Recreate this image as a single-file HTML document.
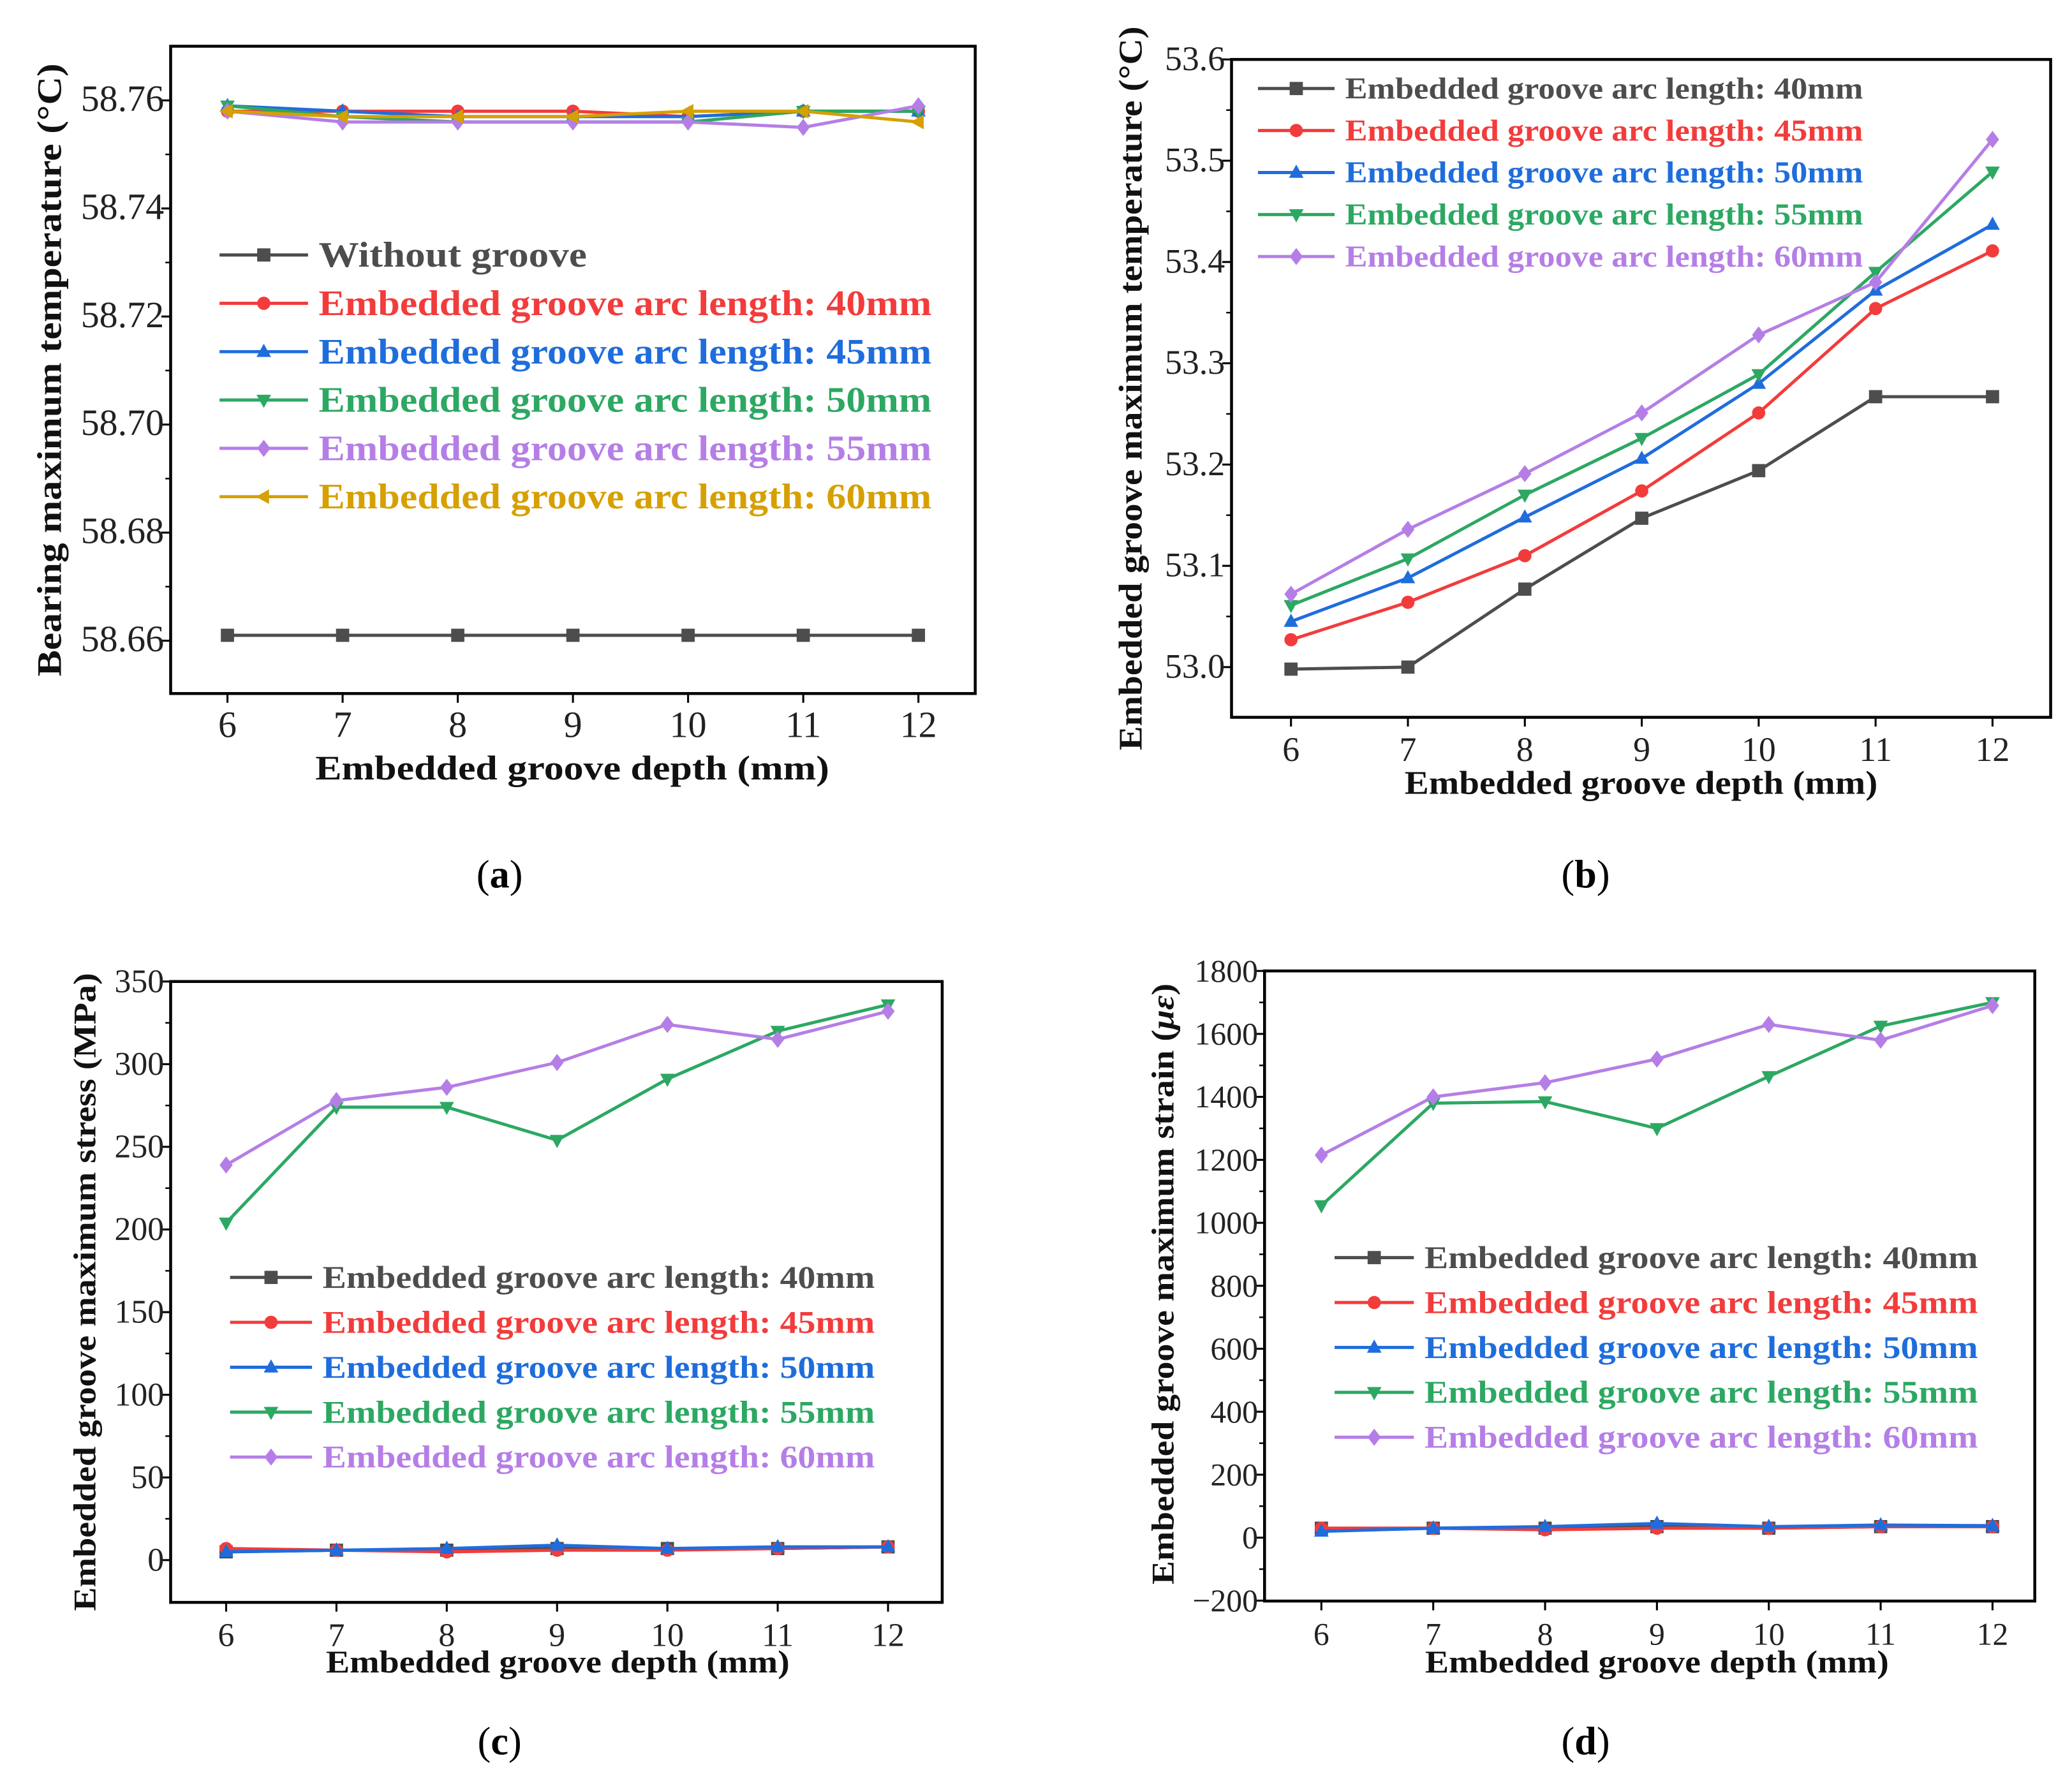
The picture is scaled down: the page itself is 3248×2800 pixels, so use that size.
<!DOCTYPE html>
<html><head><meta charset="utf-8"><style>
html,body{margin:0;padding:0;background:#fff}
svg{display:block}
text{font-family:"Liberation Serif",serif}
</style></head><body>
<svg id="root" xmlns="http://www.w3.org/2000/svg" width="3248" height="2800" viewBox="0 0 1568 1352"></svg>
<script>
const xCats=[6,7,8,9,10,11,12];
const aWithout=[58.661,58.661,58.661,58.661,58.661,58.661,58.661];
const a40=[58.758,58.758,58.758,58.758,58.757,58.758,58.758];
const a45=[58.759,58.758,58.757,58.757,58.757,58.758,58.758];
const a50=[58.759,58.757,58.756,58.756,58.756,58.758,58.758];
const a55=[58.758,58.756,58.756,58.756,58.756,58.755,58.759];
const a60=[58.758,58.757,58.757,58.757,58.758,58.758,58.756];
const aTicks=[58.66,58.68,58.70,58.72,58.74,58.76];
const b40=[52.998,53.0,53.077,53.147,53.194,53.267,53.267];
const b45=[53.027,53.064,53.11,53.174,53.251,53.354,53.411];
const b50=[53.045,53.088,53.148,53.206,53.28,53.372,53.437];
const b55=[53.061,53.107,53.17,53.226,53.289,53.39,53.489];
const b60=[53.072,53.136,53.191,53.251,53.328,53.38,53.521];
const bTicks=[53.0,53.1,53.2,53.3,53.4,53.5,53.6];
const c40=[5,6,6,7,7,7,8];
const c45=[7,6,5,6,6,7,8];
const c50=[5,6,7,9,7,8,8];
const c55=[204,274,274,254,291,320,336];
const c60=[239,278,286,301,324,315,332];
const cTicks=[0,50,100,150,200,250,300,350];
const d40=[30,30,30,35,30,35,35];
const d45=[30,30,25,30,30,35,35];
const d50=[20,30,35,45,35,40,38];
const d55=[1055,1380,1385,1300,1465,1625,1700];
const d60=[1215,1400,1445,1520,1630,1580,1690];
const dTicks=[-200,0,200,400,600,800,1000,1200,1400,1600,1800];

const NS="http://www.w3.org/2000/svg";
const root=document.getElementById('root');
function mk(tag,attrs,parent){const e=document.createElementNS(NS,tag);for(const k in attrs)e.setAttribute(k,attrs[k]);(parent||root).appendChild(e);return e;}
const COL={k:'#4d4d4d',r:'#f23c3c',b:'#1f6ddc',g:'#2ca862',p:'#b57ee6',y:'#d6a000'};
function marker(g,type,x,y,c,s){
  let e;
  if(type==='sq')e=mk('rect',{x:x-s,y:y-s,width:2*s,height:2*s,fill:c},g);
  else if(type==='ci')e=mk('circle',{cx:x,cy:y,r:s,fill:c},g);
  else{let p;
    if(type==='tu')p=[[x,y-s*1.2],[x+s*1.1,y+s*0.8],[x-s*1.1,y+s*0.8]];
    if(type==='td')p=[[x,y+s*1.2],[x+s*1.1,y-s*0.8],[x-s*1.1,y-s*0.8]];
    if(type==='di')p=[[x,y-s*1.3],[x+s,y],[x,y+s*1.3],[x-s,y]];
    if(type==='tl')p=[[x-s*1.2,y],[x+s*0.8,y-s*1.1],[x+s*0.8,y+s*1.1]];
    e=mk('polygon',{points:p.map(q=>q.join(',')).join(' '),fill:c},g);}
  return e;
}
const FULL='Embedded groove arc length: 40mm'.length;
function panel(cfg){
  const g=mk('g',{});
  
  
  const X=v=>cfg.x0+(v-6)/(12-6)*(cfg.x1-cfg.x0);
  const Y=v=>cfg.yA+(v-cfg.vA)/(cfg.vB-cfg.vA)*(cfg.yB-cfg.yA);
  const box=mk('rect',{x:cfg.L,y:cfg.T,width:cfg.R-cfg.L,height:cfg.B-cfg.T,fill:'none',stroke:'#000','stroke-width':2.2},g);
  
  xCats.forEach(v=>{
    mk('line',{x1:X(v),x2:X(v),y1:cfg.B,y2:cfg.B+7,stroke:'#000','stroke-width':1.5},g);
    const t=mk('text',{x:X(v),y:cfg.B+33,'font-size':cfg.tfs,'text-anchor':'middle',fill:'#222'},g);t.textContent=v;
    
  });
  cfg.ticks.forEach((v,i)=>{
    mk('line',{x1:cfg.L,x2:cfg.L-7,y1:Y(v),y2:Y(v),stroke:'#000','stroke-width':1.5},g);
    if(i<cfg.ticks.length-1){const m=(v+cfg.ticks[i+1])/2;mk('line',{x1:cfg.L,x2:cfg.L-4,y1:Y(m),y2:Y(m),stroke:'#000','stroke-width':1.2},g);}
    const t=mk('text',{x:cfg.L-5,y:Y(v)+8,'font-size':cfg.tfs,'text-anchor':'end',fill:'#222'},g);t.textContent=cfg.fmt(v);
    
  });
  const xt=mk('text',{x:cfg.xlx,y:cfg.xly,'font-size':cfg.lfs,'font-weight':'bold','text-anchor':'middle',fill:'#111',textLength:cfg.xtl,lengthAdjust:'spacingAndGlyphs'},g);
  xt.textContent='Embedded groove depth (mm)';
  const yt=mk('text',{x:0,y:0,'font-size':cfg.lfs,'font-weight':'bold','text-anchor':'middle',fill:'#111',textLength:cfg.ytl,lengthAdjust:'spacingAndGlyphs',transform:`translate(${cfg.ylx},${cfg.yly}) rotate(-90)`},g);
  yt.innerHTML=cfg.ytitle;
  cfg.series.forEach(s=>{
    const sg=mk('g',{},g);
    
    const pl=mk('polyline',{points:s.data.map((v,i)=>X(xCats[i])+','+Y(v)).join(' '),fill:'none',stroke:s.c,'stroke-width':2.4},sg);
    
    s.data.forEach((v,i)=>{const m=marker(sg,s.m,X(xCats[i]),Y(v),s.c,5);
      });
  });
  cfg.series.forEach((s,i)=>{
    const y=cfg.legY+i*cfg.legDy;
    const lg=mk('g',{},g);
    
    mk('line',{x1:cfg.legX,x2:cfg.legX+cfg.legW,y1:y,y2:y,stroke:s.c,'stroke-width':2.4},lg);
    marker(lg,s.m,cfg.legX+cfg.legW/2,y,s.c,5);
    const tl=(cfg.legTL*s.label.length/FULL).toFixed(1);
    const t=mk('text',{x:cfg.legX+cfg.legW+8,y:y+cfg.legFs*0.33,'font-size':cfg.legFs,'font-weight':'bold',fill:s.c,textLength:tl,lengthAdjust:'spacingAndGlyphs'},lg);t.textContent=s.label;
  });
  const cap=mk('text',{x:cfg.capX,y:cfg.capY,'font-size':30,'text-anchor':'middle',fill:'#000'},g);
  cap.innerHTML='(<tspan font-weight="bold">'+cfg.cap+'</tspan>)';
  
}
const lab=n=>'Embedded groove arc length: '+n+'mm';
panel({name:'panel-a-bearing-temperature',L:129,R:738,T:35,B:525,x0:172,x1:695,yA:485,vA:58.66,yB:76,vB:58.76,
  ticks:aTicks,fmt:v=>v.toFixed(2),tfs:28,lfs:26,xlx:433,xly:590,ylx:46,yly:280,xtl:389,ytl:464,
  ytitle:'Bearing maximum temperature (°C)',
  series:[{key:'without',data:aWithout,c:COL.k,m:'sq',label:'Without groove'},
    {key:'40mm',data:a40,c:COL.r,m:'ci',label:lab(40)},
    {key:'45mm',data:a45,c:COL.b,m:'tu',label:lab(45)},
    {key:'50mm',data:a50,c:COL.g,m:'td',label:lab(50)},
    {key:'55mm',data:a55,c:COL.p,m:'di',label:lab(55)},
    {key:'60mm',data:a60,c:COL.y,m:'tl',label:lab(60)}],
  legX:166,legW:67,legY:193,legDy:36.6,legFs:27,legTL:464,capX:378,capY:672,cap:'a'});
panel({name:'panel-b-groove-temperature',L:932,R:1552,T:45,B:543,x0:977,x1:1508,yA:505,vA:53.0,yB:45,vB:53.6,
  ticks:bTicks,fmt:v=>v.toFixed(1),tfs:26,lfs:25,xlx:1242,xly:601,ylx:864,yly:294,xtl:358,ytl:548,
  ytitle:'Embedded groove maximum temperature (°C)',
  series:[{key:'40mm',data:b40,c:COL.k,m:'sq',label:lab(40)},
    {key:'45mm',data:b45,c:COL.r,m:'ci',label:lab(45)},
    {key:'50mm',data:b50,c:COL.b,m:'tu',label:lab(50)},
    {key:'55mm',data:b55,c:COL.g,m:'td',label:lab(55)},
    {key:'60mm',data:b60,c:COL.p,m:'di',label:lab(60)}],
  legX:952,legW:58,legY:67,legDy:31.8,legFs:23,legTL:392,capX:1200,capY:672,cap:'b'});
panel({name:'panel-c-groove-stress',L:129,R:713,T:743,B:1213,x0:171,x1:672,yA:1181,vA:0,yB:743,vB:350,
  ticks:cTicks,fmt:v=>String(v),tfs:25,lfs:24,xlx:422,xly:1266,ylx:72,yly:978,xtl:351,ytl:483,
  ytitle:'Embedded groove maximum stress (MPa)',
  series:[{key:'40mm',data:c40,c:COL.k,m:'sq',label:lab(40)},
    {key:'45mm',data:c45,c:COL.r,m:'ci',label:lab(45)},
    {key:'50mm',data:c50,c:COL.b,m:'tu',label:lab(50)},
    {key:'55mm',data:c55,c:COL.g,m:'td',label:lab(55)},
    {key:'60mm',data:c60,c:COL.p,m:'di',label:lab(60)}],
  legX:174,legW:62,legY:967,legDy:34,legFs:24,legTL:418,capX:378,capY:1328,cap:'c'});
panel({name:'panel-d-groove-strain',L:957,R:1540,T:735,B:1212,x0:1000,x1:1508,yA:1164,vA:0,yB:735,vB:1800,
  ticks:dTicks,fmt:v=>v<0?'\u2212'+(-v):String(v),tfs:24,lfs:24,xlx:1254,xly:1266,ylx:888,yly:972,xtl:351,ytl:455,
  ytitle:'Embedded groove maximum strain (<tspan font-style="italic">με</tspan>)',
  series:[{key:'40mm',data:d40,c:COL.k,m:'sq',label:lab(40)},
    {key:'45mm',data:d45,c:COL.r,m:'ci',label:lab(45)},
    {key:'50mm',data:d50,c:COL.b,m:'tu',label:lab(50)},
    {key:'55mm',data:d55,c:COL.g,m:'td',label:lab(55)},
    {key:'60mm',data:d60,c:COL.p,m:'di',label:lab(60)}],
  legX:1010,legW:60,legY:952,legDy:34,legFs:24,legTL:419,capX:1200,capY:1328,cap:'d'});
</script>
</body></html>
